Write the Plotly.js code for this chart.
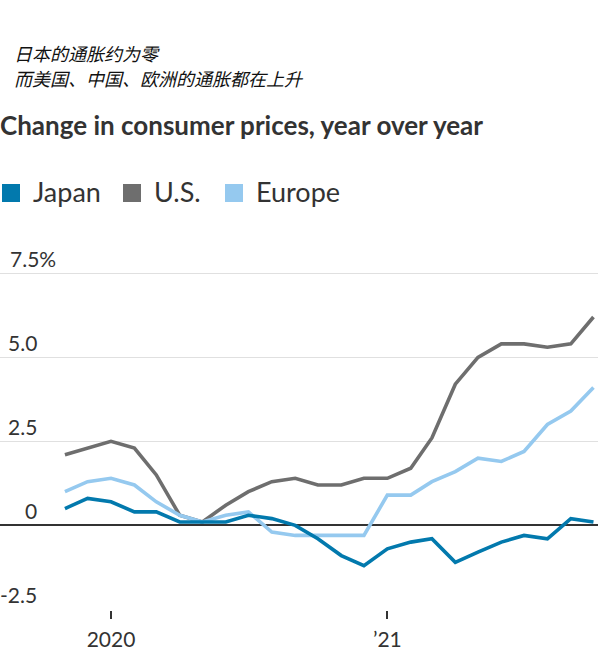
<!DOCTYPE html>
<html>
<head>
<meta charset="utf-8">
<script src="https://cdn.plot.ly/plotly-3.0.1.min.js"></script>
<style>
html,body{margin:0;padding:0;background:#fff;}
#chart{width:598px;height:669px;}
</style>
</head>
<body>
<div id="chart"></div>
<script>
const months = ['2019-11-01','2019-12-01','2020-01-01','2020-02-01','2020-03-01','2020-04-01','2020-05-01','2020-06-01','2020-07-01','2020-08-01','2020-09-01','2020-10-01','2020-11-01','2020-12-01','2021-01-01','2021-02-01','2021-03-01','2021-04-01','2021-05-01','2021-06-01','2021-07-01','2021-08-01','2021-09-01','2021-10-01'];
const japan = [0.5,0.8,0.7,0.4,0.4,0.1,0.1,0.1,0.3,0.2,0.0,-0.4,-0.9,-1.2,-0.7,-0.5,-0.4,-1.1,-0.8,-0.5,-0.3,-0.4,0.2,0.1];
const us = [2.1,2.3,2.5,2.3,1.5,0.3,0.1,0.6,1.0,1.3,1.4,1.2,1.2,1.4,1.4,1.7,2.6,4.2,5.0,5.4,5.4,5.3,5.4,6.2];
const europe = [1.0,1.3,1.4,1.2,0.7,0.3,0.1,0.3,0.4,-0.2,-0.3,-0.3,-0.3,-0.3,0.9,0.9,1.3,1.6,2.0,1.9,2.2,3.0,3.4,4.1];
const seriesNames = ['Japan','U.S.','Europe'];
const seriesColors = ['#0279ad','#6e6e6e','#95c9ef'];
const yTickVals = [-2.5,0,2.5,5.0,7.5];
const yTickText = ['-2.5','0','2.5','5.0','7.5%'];
const xTickVals = ['2020-01-01','2021-01-01'];
const xTickText = ['2020','\u201921'];
const subtitle = ['日本的通胀约为零','而美国、中国、欧洲的通胀都在上升'];
const titleText = 'Change in consumer prices, year over year';

const W = 598, H = 669, MT = 250, MB = 59;
const FONT = 'Lato, "Noto Sans", sans-serif';
const TXT = '#333333';
const py = p => (H - MB - p) / (H - MB - MT);
const px = p => p / W;

const seriesData = [japan, us, europe];
const traces = [1,2,0].map(i => ({
  type:'scatter', mode:'lines', x: months, y: seriesData[i], name: seriesNames[i],
  line:{color: seriesColors[i], width:3.6}, hoverinfo:'x+y+name', showlegend:false
}));

const annotations = [];
const shapes = [];
yTickVals.forEach((v,k) => {
  const isTop = k === yTickVals.length-1;
  annotations.push({
    xref:'paper', yref:'y', x: isTop ? px(8) : px(39), y: v,
    xanchor: isTop ? 'left' : 'right', yanchor:'bottom', showarrow:false,
    text: yTickText[k], font:{family:FONT, size:21, color:TXT}
  });
});
subtitle.forEach((s,k) => {
  annotations.push({
    xref:'paper', yref:'paper', x: px(12), y: py(53 + k*25), xanchor:'left', yanchor:'middle',
    showarrow:false, text:'<i>'+s+'</i>', font:{family:'"Noto Sans CJK SC", sans-serif', size:18, color:'#111'}
  });
});
annotations.push({
  xref:'paper', yref:'paper', x: px(-2), y: py(125), xanchor:'left', yanchor:'middle', showarrow:false,
  text:'<b>'+titleText+'</b>', font:{family:FONT, size:26, color:TXT}
});
const legX = [2, 123, 225];
seriesNames.forEach((n,i) => {
  shapes.push({type:'rect', xref:'paper', yref:'paper', x0: px(legX[i]), x1: px(legX[i]+18),
    y0: py(202), y1: py(184), fillcolor: seriesColors[i], line:{width:0}});
  annotations.push({xref:'paper', yref:'paper', x: px(legX[i]+29), y: py(192), xanchor:'left', yanchor:'middle',
    showarrow:false, text:n, font:{family:FONT, size:27, color:TXT}});
});

const layout = {
  width: W, height: H,
  margin:{l:0, r:0, t:MT, b:MB, pad:0},
  paper_bgcolor:'#fff', plot_bgcolor:'#fff',
  showlegend:false,
  xaxis:{type:'date', range:['2019-08-07','2021-10-07'], tickvals:xTickVals, ticktext:xTickText,
    ticks:'outside', ticklen:8, tickwidth:2, tickcolor:TXT, showgrid:false, zeroline:false, showline:false,
    ticklabelstandoff:3, tickfont:{family:FONT, size:21, color:TXT}, fixedrange:true},
  yaxis:{range:[-2.52, 8.194], tickvals:yTickVals, showticklabels:false, showgrid:true, gridcolor:'#e0e0e0', gridwidth:1.5,
    zeroline:true, zerolinecolor:'#333333', zerolinewidth:2, showline:false, ticks:'', fixedrange:true},
  annotations, shapes,
  font:{family:FONT, color:TXT}
};
Plotly.newPlot('chart', traces, layout, {displayModeBar:false, staticPlot:true});
</script>
</body>
</html>
